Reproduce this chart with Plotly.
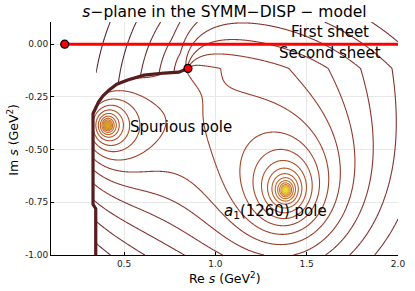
import numpy as np
import plotly.graph_objects as go

# ---- data (GeV^2) ----
pole_names = ["Spurious pole", "a1(1260) pole"]
pole_re = [0.41, 1.385]
pole_im = [-0.385, -0.692]
pole_weight = [1.0, 1.0]
pole_core_color = ['#dca028', '#ecdc34']

threshold_re = 0.175
threshold_im = 0.0
branch_re = 0.85
branch_im = -0.115
branch_upper = 1.6
branch_lower = 1.5

# branch cut (second sheet boundary), from the branch point outwards
cut_re = [0.85, 0.80, 0.72, 0.61, 0.52, 0.46, 0.417, 0.385, 0.36, 0.345, 0.33, 0.33, 0.345, 0.345]
cut_im = [-0.115, -0.133, -0.137, -0.147, -0.17, -0.19, -0.218, -0.245, -0.275, -0.30, -0.33, -0.76, -0.78, -1.05]

real_axis_end = 2.0

x_ticks = [0.5, 1.0, 1.5, 2.0]
y_ticks = [-1.0, -0.75, -0.5, -0.25, 0.0]

# ---- amplitude surface on the s-plane ----
X = np.linspace(0.1, 2.0, 600)
Y = np.linspace(-1.0, 0.105, 350)
XX, YY = np.meshgrid(X, Y)
S = XX + 1j * YY

# densify cut polyline
cr, ci = [], []
for k in range(len(cut_re) - 1):
    t = np.linspace(0, 1, 60, endpoint=False)
    cr.append(cut_re[k] + t * (cut_re[k + 1] - cut_re[k]))
    ci.append(cut_im[k] + t * (cut_im[k + 1] - cut_im[k]))
cr = np.concatenate(cr + [[cut_re[-1]]])
ci = np.concatenate(ci + [[cut_im[-1]]])
b = branch_re + 1j * branch_im
cz = cr + 1j * ci - b
rc = np.maximum.accumulate(np.abs(cz))
thc = np.angle(cz)
thc[0] = thc[1]

D = S - b
r = np.abs(D)
th = np.angle(D)
thc_g = np.interp(r, rc, thc)
th2 = np.where(th > thc_g, th, th + 2 * np.pi)
sn = np.sin(th2 / 2)
F = -branch_upper * np.sqrt(r) * np.clip(sn, 0, None) + branch_lower * np.sqrt(r) * np.clip(sn, None, 0)

# spurious pole lives on the lower sheet only: fade it out above the cut
fade = np.clip((th2 - 0.2) / 2.0, 0, 1)
w_sheet = 0.5 * (1 + np.cos(np.pi * fade))
F += w_sheet * (-pole_weight[0] * np.log(np.abs(S - (pole_re[0] + 1j * pole_im[0])) + 1e-6))
F += -pole_weight[1] * np.log(np.abs(S - (pole_re[1] + 1j * pole_im[1])) + 1e-6)

# hide the region beyond the cut (left part)
x_left = np.interp(YY, [-1.0, -0.78, -0.76, -0.33, -0.30, 0.2], [0.345, 0.345, 0.33, 0.33, 0.345, 0.345])
F[XX < x_left] = np.nan

p2 = pole_re[1] + 1j * pole_im[1]
f_top = float(np.nanmax(F[np.abs(S - p2) > 0.006]))
F = np.minimum(F, f_top)
f_low = float(np.nanmin(F))
step = 0.26

colorscale = [[0.0, '#50283a'], [0.12, '#7a3032'], [0.22, '#8e372c'], [0.35, '#a4442a'],
              [0.5, '#bc5c28'], [0.65, '#cc7a26'], [0.8, '#d8a226'], [0.9, '#e2c42a'],
              [1.0, '#eee43a']]

fig = go.Figure()
fig.add_trace(go.Contour(
    x=X, y=Y, z=F,
    contours=dict(coloring='lines', start=f_low + step / 2, end=f_top, size=step),
    line=dict(width=1.1),
    colorscale=colorscale, zmin=f_low, zmax=f_top,
    showscale=False, connectgaps=False, hoverinfo='skip'))

# glowing pole cores
fig.add_trace(go.Scatter(x=pole_re, y=pole_im, mode='markers',
                         marker=dict(color=pole_core_color, size=9, opacity=0.55, line=dict(width=0)),
                         hoverinfo='skip'))
fig.add_trace(go.Scatter(x=pole_re, y=pole_im, mode='markers',
                         marker=dict(color=pole_core_color, size=5, opacity=0.9, line=dict(width=0)),
                         hoverinfo='skip'))

fig.add_trace(go.Scatter(x=cut_re, y=cut_im, mode='lines',
                         line=dict(color='#561c1e', width=3.2), hoverinfo='skip'))
fig.add_trace(go.Scatter(x=[threshold_re, real_axis_end], y=[threshold_im, threshold_im], mode='lines',
                         line=dict(color='#ff0000', width=3), hoverinfo='skip'))
fig.add_trace(go.Scatter(x=[threshold_re, branch_re], y=[threshold_im, branch_im], mode='markers',
                         marker=dict(color='#ff0000', size=8, line=dict(color='black', width=1.2)),
                         hoverinfo='skip'))

font = "DejaVu Sans, sans-serif"
ann = [
    dict(x=1.63, y=0.057, text="First sheet"),
    dict(x=1.63, y=-0.043, text="Second sheet"),
    dict(x=0.81, y=-0.393, text="Spurious pole"),
    dict(x=1.33, y=-0.796, text="<i>a</i><sub>1</sub>(1260) pole"),
]
for a in ann:
    fig.add_annotation(x=a["x"], y=a["y"], text=a["text"], showarrow=False,
                       xanchor='center', yanchor='middle',
                       font=dict(family=font, size=15, color='black'))

# axis titles
fig.add_annotation(x=0.5, y=-23 / 233, xref='paper', yref='paper', showarrow=False,
                   text="Re <i>s</i> (GeV<sup>2</sup>)", xanchor='center', yanchor='middle',
                   font=dict(family=font, size=12.5, color='black'))
fig.add_annotation(x=-39 / 354, y=0.494, xref='paper', yref='paper', showarrow=False,
                   text="Im <i>s</i> (GeV<sup>2</sup>)", xanchor='center', yanchor='middle',
                   textangle=-90, font=dict(family=font, size=12.5, color='black'))

axis_common = dict(showgrid=True, gridcolor='#e8e8e8', gridwidth=0.6, zeroline=False,
                   showline=True, linecolor='black', linewidth=1, mirror=False,
                   ticks='inside', ticklen=3, tickcolor='black',
                   tickfont=dict(family=font, size=9, color='#222'))
fig.update_layout(
    width=415, height=291,
    margin=dict(l=51, r=10, t=22, b=36),
    paper_bgcolor='white', plot_bgcolor='white',
    showlegend=False,
    title=dict(text="<i>s</i>−plane in the SYMM−DISP − model", x=0.5, xref='paper',
               y=1 - 12 / 291, yanchor='middle',
               font=dict(family=font, size=15.5, color='black')),
    xaxis=dict(range=[0.1, 2.0], tickvals=x_ticks, ticktext=[f"{v:.1f}" for v in x_ticks],
               **axis_common),
    yaxis=dict(range=[-1.0, 0.105], tickvals=y_ticks, ticktext=[f"{v:.2f}" for v in y_ticks],
               **axis_common),
)
fig.write_html("out.html", config={"displayModeBar": False},
               post_script="document.body.style.margin='0px';")
